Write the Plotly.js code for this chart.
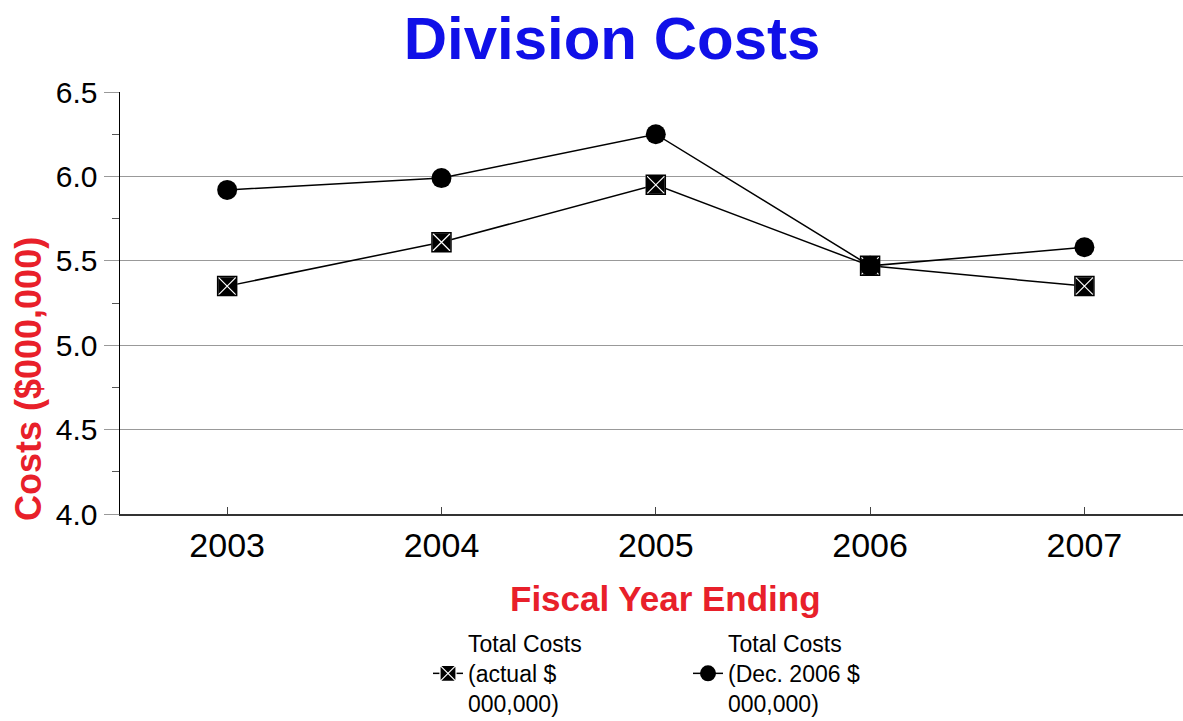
<!DOCTYPE html>
<html>
<head>
<meta charset="utf-8">
<script src="https://cdn.plot.ly/plotly-3.0.1.min.js"></script>
<style>
  html, body { margin: 0; padding: 0; background: #ffffff; overflow: hidden; }
  #chart { width: 1183px; height: 721px; }
</style>
</head>
<body>
<div id="chart"></div>
<script>
// Fiscal years on the category axis
const years = ['2003', '2004', '2005', '2006', '2007'];

// Total costs, in millions of dollars
const actualCosts = [5.35, 5.61, 5.95, 5.47, 5.35];
const dec2006Costs = [5.92, 5.99, 6.25, 5.47, 5.58];

// Series names shown in the legend
const actualName = 'Total Costs<br>(actual $<br>000,000)';
const dec2006Name = 'Total Costs<br>(Dec. 2006 $<br>000,000)';

const yTicks = [4.0, 4.5, 5.0, 5.5, 6.0, 6.5];
const yTickText = ['4.0', '4.5', '5.0', '5.5', '6.0', '6.5'];

const FONT = 'Liberation Sans, Arial, sans-serif';
const RED = '#e8202a';

const traces = [
  {
    x: years,
    y: actualCosts,
    name: actualName,
    type: 'scatter',
    mode: 'lines+markers',
    line: { color: '#000000', width: 1.5 },
    marker: {
      symbol: 'square-x',
      size: 19,
      color: '#000000',
      line: { color: '#ffffff', width: 1.2 }
    }
  },
  {
    // dark outline around the crossed squares
    x: years,
    y: actualCosts,
    type: 'scatter',
    mode: 'markers',
    showlegend: false,
    hoverinfo: 'skip',
    marker: {
      symbol: 'square-open',
      size: 19,
      color: '#000000',
      line: { color: '#000000', width: 1.5 }
    }
  },
  {
    x: years,
    y: dec2006Costs,
    name: dec2006Name,
    type: 'scatter',
    mode: 'lines+markers',
    line: { color: '#000000', width: 1.5 },
    marker: { symbol: 'circle', size: 20, color: '#000000' }
  }
];

const layout = {
  width: 1183,
  height: 721,
  paper_bgcolor: '#ffffff',
  plot_bgcolor: '#ffffff',
  margin: { l: 120, r: 0, t: 92, b: 207, autoexpand: false },
  font: { family: FONT, color: '#000000' },
  title: {
    text: '<b>Division Costs</b>',
    font: { family: FONT, size: 60, color: '#1010e8' },
    xref: 'container',
    yref: 'container',
    x: 612 / 1183,
    xanchor: 'center',
    y: 1 - 38 / 721,
    yanchor: 'middle'
  },
  xaxis: {
    type: 'category',
    range: [-0.5, 4.46],
    showgrid: false,
    zeroline: false,
    showline: true,
    linecolor: '#333333',
    linewidth: 2,
    ticks: 'inside',
    ticklen: 7,
    tickcolor: '#444444',
    tickfont: { family: FONT, size: 34, color: '#000000' }
  },
  yaxis: {
    range: [4.0, 6.5],
    tickvals: yTicks,
    ticktext: yTickText,
    showgrid: true,
    gridcolor: '#999999',
    gridwidth: 1,
    zeroline: false,
    showline: true,
    linecolor: '#000000',
    linewidth: 1.5,
    ticks: 'outside',
    ticklen: 15,
    tickcolor: '#999999',
    tickfont: { family: FONT, size: 30, color: '#000000' },
    minor: {
      dtick: 0.25,
      ticks: 'outside',
      ticklen: 7,
      tickcolor: '#555555',
      showgrid: false
    }
  },
  annotations: [
    {
      text: '<b>Fiscal Year Ending</b>',
      xref: 'paper', yref: 'paper',
      x: (665 - 120) / 1063, y: -(598 - 514) / 422,
      xanchor: 'center', yanchor: 'middle',
      showarrow: false,
      font: { family: FONT, size: 35, color: RED }
    },
    {
      text: '<b>Costs ($000,000)</b>',
      xref: 'paper', yref: 'paper',
      x: -(120 - 28) / 1063, y: (514 - 379) / 422,
      xanchor: 'center', yanchor: 'middle',
      textangle: -90,
      showarrow: false,
      font: { family: FONT, size: 36, color: RED }
    }
  ],
  showlegend: true,
  legend: {
    orientation: 'h',
    xref: 'paper', yref: 'paper',
    x: (428 - 120) / 1063,
    xanchor: 'left',
    y: -(622 - 514) / 422,
    yanchor: 'top',
    entrywidth: 215,
    entrywidthmode: 'pixels',
    itemwidth: 30,
    valign: 'middle',
    bgcolor: 'rgba(0,0,0,0)',
    font: { family: FONT, size: 23, color: '#000000' }
  }
};

Plotly.newPlot('chart', traces, layout, { displayModeBar: false, staticPlot: true });
</script>
</body>
</html>
